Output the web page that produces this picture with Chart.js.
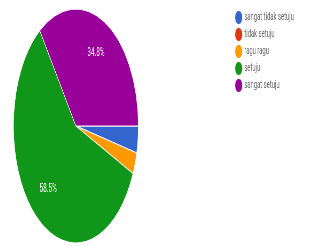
<!DOCTYPE html>
<html>
<head>
<meta charset="utf-8">
<script src="https://cdn.jsdelivr.net/npm/chart.js@4.4.1/dist/chart.umd.min.js"></script>
<style>
    html, body { margin: 0; padding: 0; background: #fff; overflow: hidden; }
    /* the reference image is squeezed horizontally, so the whole chart is too */
    #wrap { width: 733px; height: 246px; margin-left: -80.6px; transform: scaleX(0.534); transform-origin: 0 0; }
</style>
</head>
<body>
<div id="wrap"><canvas id="grafico"></canvas></div>
<script>
// datos de la encuesta
const etiquetas = ['sangat tidak setuju', 'tidak setuju', 'ragu ragu', 'setuju', 'sangat setuju'];
const respuestas = [5, 0, 4, 79, 47];
const colores = ['#3366cc', '#dc3912', '#ff9900', '#109618', '#990099'];

// porcentajes dentro de las porciones grandes
const etiquetasPorcentaje = {
    id: 'etiquetasPorcentaje',
    afterDatasetsDraw(chart) {
        const ctx = chart.ctx;
        const total = respuestas.reduce((a, b) => a + b, 0);
        const meta = chart.getDatasetMeta(0);
        ctx.save();
        ctx.font = '12px Roboto';
        ctx.fillStyle = '#ffffff';
        ctx.textAlign = 'center';
        ctx.textBaseline = 'middle';
        meta.data.forEach((arc, i) => {
            const pct = respuestas[i] / total * 100;
            if (pct < 5) return;
            const p = arc.getProps(['x', 'y', 'startAngle', 'endAngle', 'outerRadius'], true);
            const medio = (p.startAngle + p.endAngle) / 2;
            const r = p.outerRadius * 0.7;
            ctx.fillText(pct.toFixed(1) + '%', p.x + Math.cos(medio) * r, p.y + Math.sin(medio) * r);
        });
        ctx.restore();
    }
};

new Chart(document.getElementById('grafico'), {
    type: 'pie',
    data: {
        labels: etiquetas,
        datasets: [{
            data: respuestas,
            backgroundColor: colores,
            borderColor: '#ffffff',
            borderWidth: 1,
            radius: 117
        }]
    },
    options: {
        animation: false,
        responsive: true,
        maintainAspectRatio: false,
        rotation: 90,
        layout: { padding: { left: 0, right: 21, top: 6, bottom: 0 } },
        plugins: {
            legend: {
                position: 'right',
                align: 'start',
                labels: {
                    usePointStyle: true,
                    pointStyle: 'circle',
                    boxWidth: 10,
                    boxHeight: 10,
                    padding: 6,
                    color: '#666',
                    font: { family: 'Roboto', size: 11 }
                }
            },
            tooltip: { enabled: false }
        }
    },
    plugins: [etiquetasPorcentaje]
});
</script>
</body>
</html>
